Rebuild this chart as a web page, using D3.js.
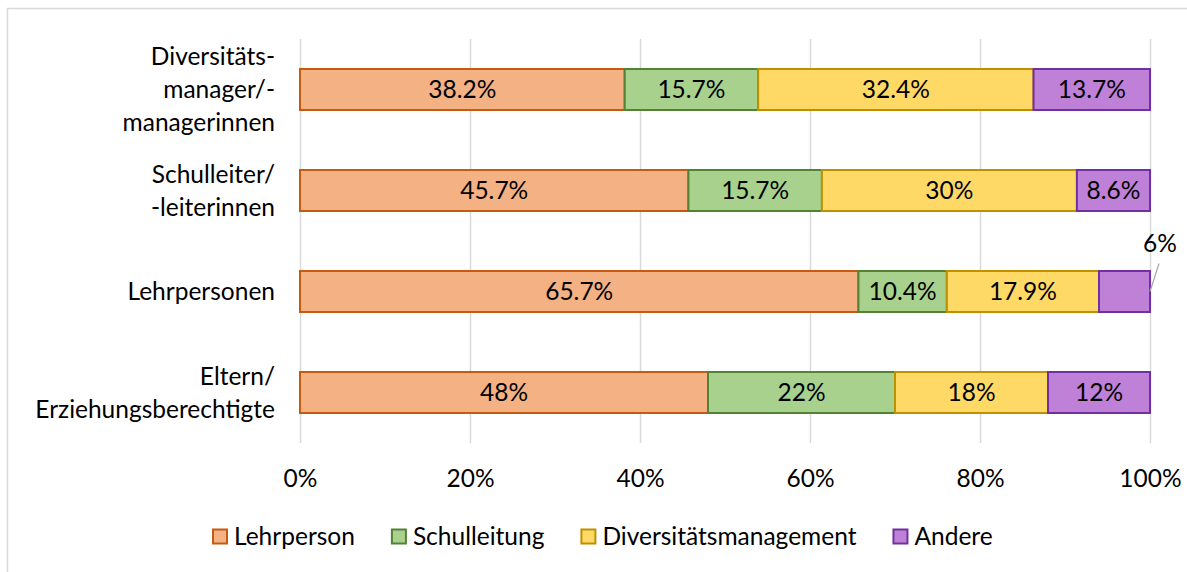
<!DOCTYPE html>
<html>
<head>
<meta charset="utf-8">
<script src="https://cdn.jsdelivr.net/npm/d3@7"></script>
<style>
  body { margin: 0; background: #fff; }
  text { font-family: Lato, "Open Sans", sans-serif; fill: #000; }
</style>
</head>
<body>
<div id="chart"></div>
<script>
const categories = [
    ["Diversitäts-", "manager/-", "managerinnen"],
    ["Schulleiter/", "-leiterinnen"],
    ["Lehrpersonen"],
    ["Eltern/", "Erziehungsberechtigte"]
];
const seriesNames = ["Lehrperson", "Schulleitung", "Diversitätsmanagement", "Andere"];
const lehrperson = [38.2, 45.7, 65.7, 48];
const schulleitung = [15.7, 15.7, 10.4, 22];
const diversitaet = [32.4, 30, 17.9, 18];
const andere = [13.7, 8.6, 6, 12];
const xTicks = [0, 20, 40, 60, 80, 100];

const fills = ["#F4B183", "#A9D18E", "#FFD966", "#BF80D8"];
const strokes = ["#C55A11", "#548235", "#BF9000", "#7030A0"];

const W = 1187, H = 572;
const fontSize = 24.5;

const svg = d3.select("#chart")
    .append("svg")
    .attr("width", W)
    .attr("height", H);

// chart frame (cut at the right and bottom edges)
svg.append("rect")
    .attr("x", 7.5).attr("y", 8.5)
    .attr("width", W + 20).attr("height", H + 20)
    .attr("fill", "none")
    .attr("stroke", "#d9d9d9")
    .attr("stroke-width", 1.5);

const rows = categories.map((c, i) => ({
    key: c.join(" "),
    lines: c,
    Lehrperson: lehrperson[i],
    Schulleitung: schulleitung[i],
    Diversitätsmanagement: diversitaet[i],
    Andere: andere[i]
}));

const xScale = d3.scaleLinear().domain([0, 100]).range([300, 1150]);
const yScale = d3.scaleBand()
    .domain(rows.map(d => d.key))
    .range([39, 443])
    .paddingInner(0.594)
    .paddingOuter(0.297);

// gridlines + tick labels
svg.append("g")
    .attr("transform", "translate(0,443)")
    .call(d3.axisBottom(xScale).tickValues(xTicks).tickSize(-404).tickFormat(d => d + "%"))
    .call(g => g.select(".domain").remove())
    .call(g => g.selectAll(".tick line").attr("stroke", "#d9d9d9").attr("stroke-width", 1.5))
    .call(g => g.selectAll(".tick text")
        .attr("y", 35)
        .attr("dy", "0.35em")
        .style("font-family", "Lato, sans-serif")
        .style("font-size", fontSize + "px")
        .attr("fill", "#000"));

const stacked = d3.stack().keys(seriesNames)(rows);

const layers = svg.append("g")
    .selectAll("g")
    .data(stacked)
    .join("g")
    .attr("fill", (d, i) => fills[i])
    .attr("stroke", (d, i) => strokes[i])
    .attr("stroke-width", 2);

layers.selectAll("rect")
    .data(d => d)
    .join("rect")
    .attr("x", d => xScale(d[0]))
    .attr("y", d => yScale(d.data.key))
    .attr("width", d => xScale(d[1]) - xScale(d[0]))
    .attr("height", yScale.bandwidth());

//Value labels
stacked.forEach(layer => {
    layer.forEach(d => {
        const v = d[1] - d[0];
        const cx = (xScale(d[0]) + xScale(d[1])) / 2;
        const cy = yScale(d.data.key) + yScale.bandwidth() / 2;
        const w = xScale(d[1]) - xScale(d[0]);
        if (w > 60) {
            svg.append("text")
                .attr("x", cx)
                .attr("y", cy)
                .attr("dy", "0.35em")
                .attr("text-anchor", "middle")
                .style("font-size", fontSize + "px")
                .text(v.toFixed(1).replace(/\.0$/, "") + "%");
        } else {
            const ex = xScale(d[1]);
            svg.append("line")
                .attr("x1", ex).attr("y1", cy)
                .attr("x2", ex + 9).attr("y2", cy - 28)
                .attr("stroke", "#a6a6a6")
                .attr("stroke-width", 1.2);
            svg.append("text")
                .attr("x", ex + 10)
                .attr("y", cy - 48)
                .attr("dy", "0.35em")
                .attr("text-anchor", "middle")
                .style("font-size", fontSize + "px")
                .text(v.toFixed(1).replace(/\.0$/, "") + "%");
        }
    });
});

//Category labels
const lineH = 33;
rows.forEach(r => {
    const cy = yScale(r.key) + yScale.bandwidth() / 2;
    const t = svg.append("text")
        .attr("text-anchor", "end")
        .style("font-size", fontSize + "px");
    r.lines.forEach((ln, j) => {
        t.append("tspan")
            .attr("x", 275)
            .attr("y", cy + (j - (r.lines.length - 1) / 2) * lineH)
            .attr("dy", "0.35em")
            .text(ln);
    });
});

//Legend
const legend = svg.append("g").attr("transform", "translate(212,536.5)");
let lx = 0;
seriesNames.forEach((name, i) => {
    const item = legend.append("g").attr("transform", `translate(${lx},0)`);
    item.append("rect")
        .attr("x", 1).attr("y", -7)
        .attr("width", 14).attr("height", 14)
        .attr("fill", fills[i])
        .attr("stroke", strokes[i])
        .attr("stroke-width", 2);
    const txt = item.append("text")
        .attr("x", 22)
        .attr("dy", "0.35em")
        .style("font-size", fontSize + "px")
        .text(name);
    lx += 22 + txt.node().getComputedTextLength() + 36;
});
</script>
</body>
</html>
